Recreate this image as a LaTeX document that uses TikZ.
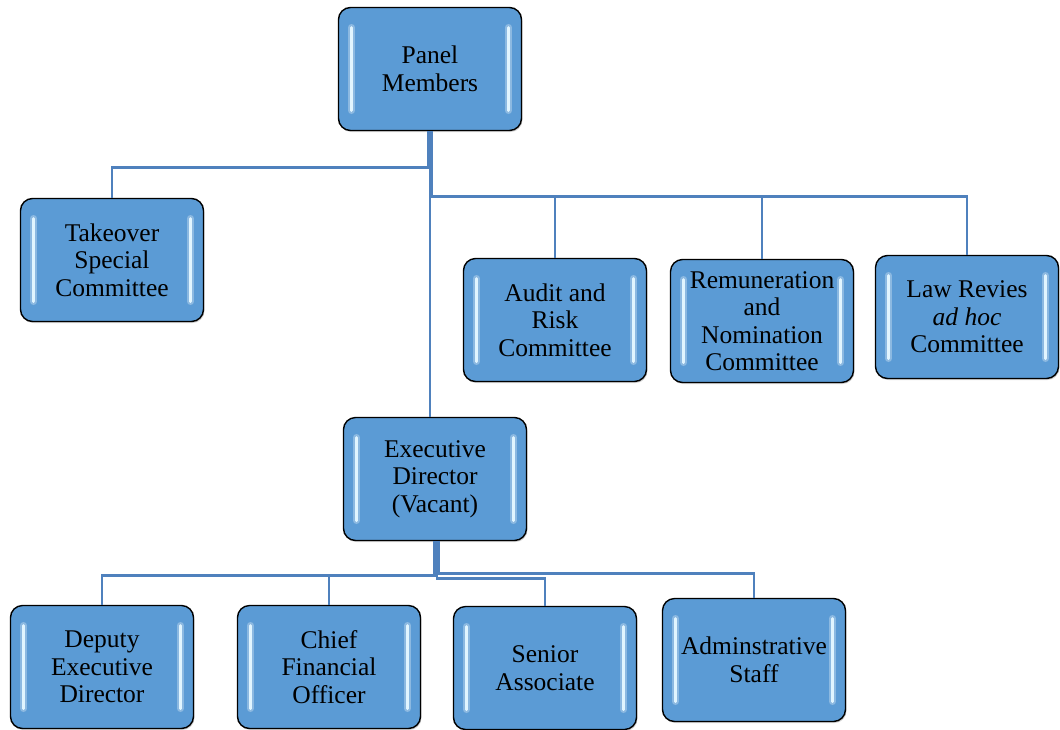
\documentclass[tikz,border=0pt]{standalone}
\usepackage{fontspec}
\setmainfont{Liberation Serif}
\usetikzlibrary{shadows}
\definecolor{boxblue}{RGB}{91,155,213}
\definecolor{linkblue}{RGB}{79,129,189}
\definecolor{hl}{RGB}{225,245,255}
\tikzset{
  box/.style={draw=black, line width=1.4pt, rounded corners=12pt, fill=boxblue,
    minimum width=183pt, minimum height=123pt, align=center, inner sep=2pt,
    font=\fontsize{25.5}{27.5}\selectfont,
    drop shadow={shadow xshift=1pt, shadow yshift=-1.5pt, opacity=0.35},
    path picture={
      \draw[line width=7pt, white, opacity=0.3, line cap=round]
        ([xshift=13pt,yshift=-20pt]path picture bounding box.north west) -- ([xshift=13pt,yshift=20pt]path picture bounding box.south west);
      \draw[line width=7pt, white, opacity=0.3, line cap=round]
        ([xshift=-13pt,yshift=-20pt]path picture bounding box.north east) -- ([xshift=-13pt,yshift=20pt]path picture bounding box.south east);
      \draw[line width=3pt, hl, line cap=round]
        ([xshift=13pt,yshift=-20pt]path picture bounding box.north west) -- ([xshift=13pt,yshift=20pt]path picture bounding box.south west);
      \draw[line width=3pt, hl, line cap=round]
        ([xshift=-13pt,yshift=-20pt]path picture bounding box.north east) -- ([xshift=-13pt,yshift=20pt]path picture bounding box.south east);
    }},
  link/.style={draw=linkblue, line width=2.8pt}
}
\begin{document}
\begin{tikzpicture}[x=1pt,y=-1pt]
\useasboundingbox (0,0) rectangle (1060,729);
\node[box] (panel) at (430,69) {Panel\\Members};
\node[box] (take) at (112,260) {Takeover\\Special\\Committee};
\node[box] (audit) at (555,320) {Audit and\\Risk\\Committee};
\node[box] (remu) at (762,321) {Remuneration\\and\\Nomination\\Committee};
\node[box] (law) at (967,317) {Law Revies\\\textit{ad hoc}\\Committee};
\node[box] (exec) at (435,479) {Executive\\Director\\(Vacant)};
\node[box] (dep) at (102,667) {Deputy\\Executive\\Director};
\node[box] (cfo) at (329,667) {Chief\\Financial\\Officer};
\node[box] (sen) at (545,668) {Senior\\Associate};
\node[box] (adm) at (754,660) {Adminstrative\\Staff};
% connectors
\draw[link] ([xshift=-2pt]panel.south -| 430,0) -- ++(0,36) -| (take.north);
\draw[link] ([xshift=2pt]panel.south -| 430,0) -- ++(0,65) -| (audit.north);
\draw[link] ([xshift=2pt]panel.south -| 430,0) -- ++(0,65) -| (remu.north);
\draw[link] ([xshift=2pt]panel.south -| 430,0) -- ++(0,65) -| (law.north);
\draw[link] (panel.south -| 430,0) -- (exec.north -| 430,0);
\draw[link] ([xshift=-1pt]exec.south) -- ++(0,34) -| (dep.north);
\draw[link] ([xshift=1pt]exec.south) -- ++(0,34) -| (cfo.north);
\draw[link] ([xshift=2pt]exec.south) -- ++(0,37) -| (sen.north);
\draw[link] ([xshift=4pt]exec.south) -- ++(0,32) -| (adm.north);
\end{tikzpicture}
\end{document}
